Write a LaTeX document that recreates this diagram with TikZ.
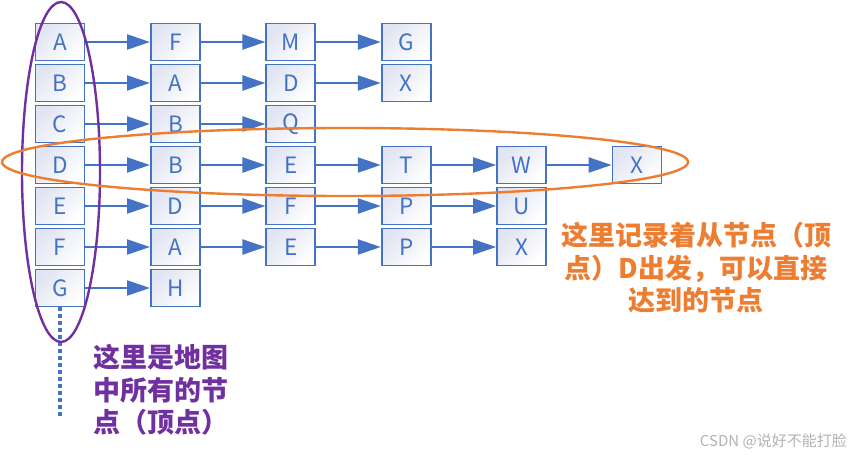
\documentclass[tikz,border=0pt]{standalone}
\usepackage{fontspec}
\newfontfamily\cjk{Noto Sans CJK SC}
\usetikzlibrary{arrows.meta}
\definecolor{blueln}{HTML}{4472C4}
\definecolor{boxtint}{HTML}{E1E4F2}
\definecolor{purp}{HTML}{7030A0}
\definecolor{orng}{HTML}{ED7D31}
\begin{document}
\begin{tikzpicture}[x=1pt,y=-1pt,
  vbox/.style={draw=blueln, line width=1.8pt, minimum width=49pt, minimum height=37pt,
    inner sep=0pt, top color=boxtint, bottom color=white, shading angle=45,
    text=blueln, font=\cjk\fontsize{22.5}{22.5}\selectfont},
  link/.style={draw=blueln, line width=2.3pt, -{Triangle[length=23pt,width=15pt]}},
  dotline/.style={draw=blueln, line width=3.3pt, dash pattern=on 4pt off 3pt},
  ring/.style={line width=2.4pt},
  bigtext/.style={inner sep=0pt, font=\cjk\bfseries\fontsize{27}{32.5}\selectfont}]
\useasboundingbox (0,0) rectangle (851,457);
\foreach \r/\items in {1/{A,F,M,G},2/{B,A,D,X},3/{C,B,Q},4/{D,B,E,T,W,X},5/{E,D,F,P,U},6/{F,A,E,P,X},7/{G,H}}{
  \foreach \t [count=\c, remember=\c as \prev (initially 0)] in \items {
    \node[vbox] (n\r-\c) at ({60+115.4*(\c-1)}, {42+41*(\r-1)}) {\t};
    \ifnum\c>1 \draw[link] (n\r-\prev.east) -- (n\r-\c.west); \fi
  }
}
\coordinate (dotend) at (60,418);
\draw[dotline] (n7-1.south) -- (dotend);
\draw[ring, draw=purp] (61,172) ellipse [x radius=39pt, y radius=170pt];
\draw[ring, draw=orng] (345,162) ellipse [x radius=343pt, y radius=34pt];
\node[bigtext, text=purp, align=left, anchor=west] (lblL) at (93,390) {这里是地图\\中所有的节\\点（顶点）};
\node[bigtext, text=orng, align=center] (lblR) at (696,268) {这里记录着从节点（顶\\点）D出发，可以直接\\达到的节点};
\node[inner sep=0pt, font=\cjk\fontsize{15}{15}\selectfont, text=black!30, anchor=east] (wm) at (847,441) {CSDN @说好不能打脸};
\end{tikzpicture}
\end{document}
